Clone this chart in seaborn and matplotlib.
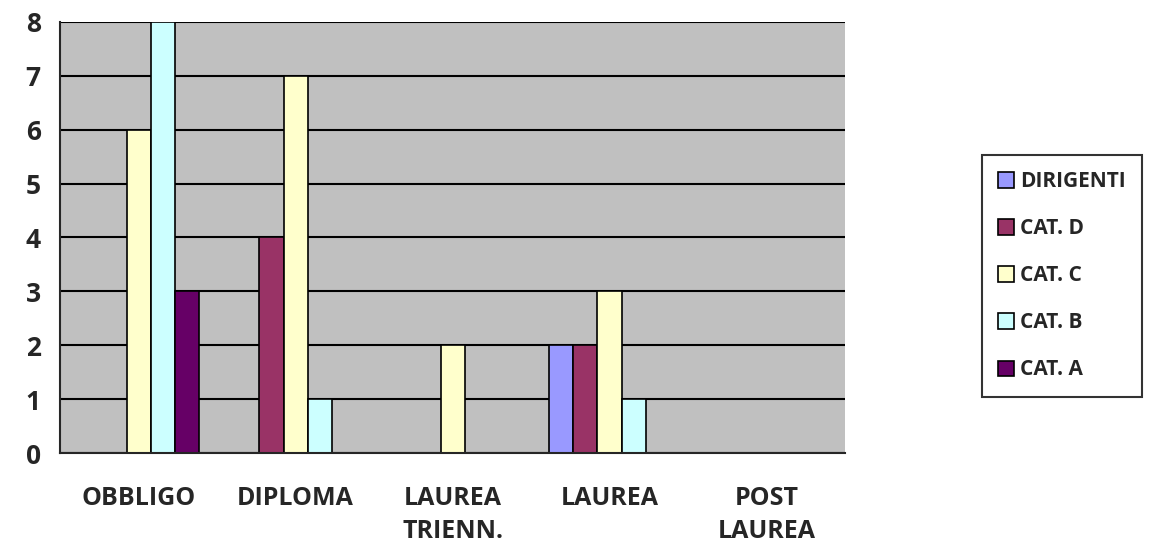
import matplotlib
matplotlib.use("Agg")
import matplotlib.pyplot as plt
import seaborn as sns
import pandas as pd

categories = ["OBBLIGO", "DIPLOMA", "LAUREA\nTRIENN.", "LAUREA", "POST\nLAUREA"]
series = ["DIRIGENTI", "CAT. D", "CAT. C", "CAT. B", "CAT. A"]
dirigenti = [0, 0, 0, 2, 0]
cat_d = [0, 4, 0, 2, 0]
cat_c = [6, 7, 2, 3, 0]
cat_b = [8, 1, 0, 1, 0]
cat_a = [3, 0, 0, 0, 0]
colors = ["#9999FF", "#993366", "#FFFFCC", "#CCFFFF", "#660066"]

rows = []
for name, vals in zip(series, [dirigenti, cat_d, cat_c, cat_b, cat_a]):
    for cat, v in zip(categories, vals):
        rows.append({"cat": cat, "serie": name, "val": v})
df = pd.DataFrame(rows)

sns.set_style("white")
plt.rcParams["font.family"] = ["Open Sans", "DejaVu Sans"]
plt.rcParams["font.weight"] = "bold"

fig = plt.figure(figsize=(11.59, 5.44), dpi=100)
ax = fig.add_axes([0.052, 0.167, 0.677, 0.793])
ax.set_facecolor("#C0C0C0")

sns.barplot(data=df, x="cat", y="val", hue="serie", hue_order=series,
            order=categories, palette=colors, saturation=1, width=0.77,
            edgecolor="black", linewidth=1.2, ax=ax, legend=True)

ax.set_ylim(0, 8)
ax.set_xlim(-0.5, 4.5)
ax.set_yticks(range(0, 9))
ax.yaxis.grid(True, color="black", linewidth=1.5)
ax.set_axisbelow(True)
ax.set_xlabel("")
ax.set_ylabel("")
for s in ["top", "right"]:
    ax.spines[s].set_visible(False)
ax.spines["left"].set_linewidth(1.5)
ax.spines["bottom"].set_linewidth(1.5)

ax.tick_params(axis="y", length=6, width=1.5, labelsize=19, pad=8)
ax.tick_params(axis="x", which="major", length=0, labelsize=18, pad=24)
ax.set_xticks([-0.5, 0.5, 1.5, 2.5, 3.5, 4.5], minor=True)
ax.tick_params(axis="x", which="minor", length=7, width=1.5)
for t in ax.get_xticklabels() + ax.get_yticklabels():
    t.set_fontweight("bold")
for t in ax.get_xticklabels():
    t.set_linespacing(1.4)
    t.set_verticalalignment("top")

handles, labels = ax.get_legend_handles_labels()
ax.get_legend().remove()
leg = fig.legend(handles, labels, loc="upper left", bbox_to_anchor=(0.838, 0.735),
                 frameon=True, fancybox=False, edgecolor="black",
                 handlelength=0.75, handleheight=0.75, handletextpad=0.3,
                 labelspacing=1.25, borderpad=0.8,
                 prop={"weight": "bold", "size": 15})
leg.get_frame().set_linewidth(1.5)

fig.savefig("out.png", dpi=100)
